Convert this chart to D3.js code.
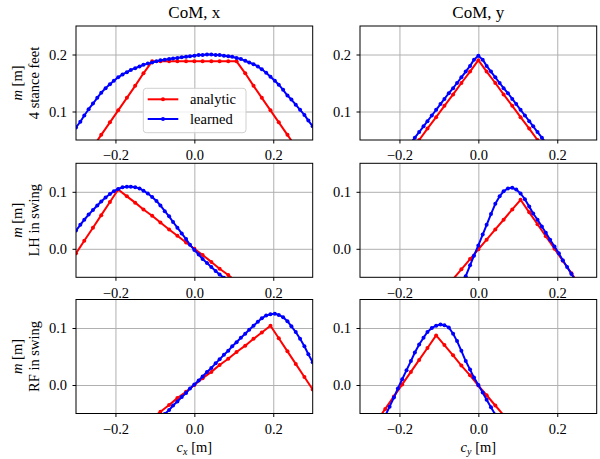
<!DOCTYPE html>
<html>
<head>
<meta charset="utf-8">
<script src="https://cdn.jsdelivr.net/npm/d3@7"></script>
<style>
  html, body { margin: 0; padding: 0; background: #fff; }
  svg text { font-family: "Liberation Serif", "DejaVu Serif", serif; fill: #000; }
</style>
</head>
<body>
<div id="chart"></div>
<script>
// ── Data ────────────────────────────────────────────────────────────────
// sample positions (m): analytic uses the coarse grid, learned the fine one
const xCoarse = [-0.300,-0.279,-0.257,-0.236,-0.214,-0.193,-0.171,-0.150,-0.129,-0.107,
  -0.086,-0.064,-0.043,-0.021,0.000,0.021,0.043,0.064,0.086,0.107,
  0.129,0.150,0.171,0.193,0.214,0.236,0.257,0.279,0.300];

const xFine = [-0.300,-0.289,-0.279,-0.268,-0.257,-0.246,-0.236,-0.225,-0.214,-0.204,
  -0.193,-0.182,-0.171,-0.161,-0.150,-0.139,-0.129,-0.118,-0.107,-0.096,
  -0.086,-0.075,-0.064,-0.054,-0.043,-0.032,-0.021,-0.011,0.000,0.011,
  0.021,0.032,0.043,0.054,0.064,0.075,0.086,0.096,0.107,0.118,
  0.129,0.139,0.150,0.161,0.171,0.182,0.193,0.204,0.214,0.225,
  0.236,0.246,0.257,0.268,0.279,0.289,0.300];

// row 1: 4 stance feet
const anaStanceX = [-0.005,0.016,0.038,0.059,0.081,0.102,0.124,0.145,0.167,0.188,
  0.188,0.188,0.188,0.188,0.188,0.188,0.188,0.188,0.188,0.188,
  0.167,0.145,0.124,0.102,0.081,0.059,0.038,0.016,-0.005];
const lrnStanceX = [0.072,0.082,0.093,0.104,0.114,0.124,0.133,0.141,0.148,0.154,
  0.160,0.165,0.169,0.173,0.176,0.179,0.182,0.184,0.186,0.188,
  0.190,0.191,0.192,0.193,0.194,0.195,0.196,0.197,0.198,0.199,
  0.199,0.200,0.200,0.199,0.199,0.198,0.197,0.196,0.194,0.192,
  0.189,0.186,0.183,0.179,0.174,0.168,0.161,0.154,0.147,0.138,
  0.128,0.121,0.112,0.103,0.094,0.084,0.074];
const anaStanceY = [-0.089,-0.069,-0.049,-0.029,-0.009,0.011,0.031,0.050,0.070,0.090,
  0.110,0.130,0.150,0.170,0.190,0.170,0.150,0.130,0.110,0.090,
  0.070,0.050,0.031,0.011,-0.009,-0.029,-0.049,-0.069,-0.089];
const lrnStanceY = [-0.071,-0.061,-0.052,-0.042,-0.032,-0.022,-0.013,-0.004,0.006,0.015,
  0.025,0.035,0.045,0.054,0.064,0.074,0.083,0.093,0.103,0.113,
  0.122,0.132,0.141,0.150,0.160,0.170,0.180,0.191,0.198,0.191,
  0.180,0.170,0.160,0.150,0.141,0.132,0.122,0.113,0.103,0.093,
  0.083,0.074,0.064,0.054,0.045,0.035,0.025,0.015,0.006,-0.004,
  -0.013,-0.022,-0.032,-0.042,-0.052,-0.061,-0.071];

// row 2: LH in swing
const anaLHX = [-0.008,0.014,0.037,0.059,0.082,0.104,0.092,0.081,0.069,0.058,
  0.046,0.034,0.023,0.011,0.000,-0.011,-0.023,-0.035,-0.046,-0.058,
  -0.069,-0.081,-0.092,-0.104,-0.115,-0.127,-0.139,-0.150,-0.162];
const lrnLHX = [0.032,0.042,0.051,0.060,0.068,0.076,0.083,0.090,0.096,0.101,
  0.105,0.108,0.109,0.109,0.108,0.106,0.102,0.097,0.091,0.084,
  0.076,0.066,0.057,0.047,0.037,0.027,0.017,0.007,-0.002,-0.010,
  -0.018,-0.025,-0.032,-0.039,-0.045,-0.051,-0.057,-0.063,-0.069,-0.075,
  -0.081,-0.087,-0.093,-0.099,-0.105,-0.111,-0.117,-0.123,-0.129,-0.135,
  -0.141,-0.147,-0.153,-0.159,-0.165,-0.171,-0.177];
const anaLHY = [-0.244,-0.227,-0.209,-0.192,-0.174,-0.157,-0.139,-0.122,-0.105,-0.087,
  -0.070,-0.053,-0.036,-0.018,-0.001,0.016,0.034,0.051,0.069,0.086,
  0.064,0.043,0.022,0.000,-0.021,-0.043,-0.064,-0.086,-0.107];
const lrnLHY = [-0.510,-0.492,-0.473,-0.455,-0.436,-0.418,-0.399,-0.381,-0.362,-0.344,
  -0.326,-0.307,-0.289,-0.270,-0.252,-0.233,-0.215,-0.196,-0.178,-0.159,
  -0.141,-0.122,-0.103,-0.085,-0.067,-0.048,-0.029,-0.012,0.006,0.025,
  0.042,0.061,0.079,0.092,0.101,0.106,0.107,0.104,0.097,0.087,
  0.074,0.062,0.051,0.039,0.028,0.016,0.004,-0.008,-0.020,-0.032,
  -0.044,-0.056,-0.068,-0.080,-0.092,-0.104,-0.116];

// row 3: RF in swing
const anaRFX = [-0.162,-0.151,-0.139,-0.128,-0.116,-0.104,-0.093,-0.081,-0.070,-0.058,
  -0.047,-0.035,-0.023,-0.012,0.000,0.012,0.023,0.035,0.046,0.058,
  0.069,0.081,0.092,0.104,0.082,0.059,0.037,0.014,-0.008];
const lrnRFX = [-0.205,-0.198,-0.190,-0.183,-0.176,-0.168,-0.161,-0.154,-0.147,-0.139,
  -0.132,-0.125,-0.117,-0.110,-0.103,-0.095,-0.088,-0.081,-0.073,-0.066,
  -0.059,-0.051,-0.044,-0.036,-0.029,-0.021,-0.014,-0.006,0.001,0.008,
  0.015,0.023,0.030,0.038,0.045,0.053,0.060,0.068,0.075,0.083,
  0.090,0.097,0.104,0.111,0.117,0.122,0.124,0.125,0.123,0.119,
  0.112,0.103,0.093,0.081,0.068,0.054,0.040];
const anaRFY = [-0.106,-0.085,-0.063,-0.042,-0.020,0.001,0.023,0.044,0.065,0.087,
  0.070,0.052,0.034,0.017,-0.001,-0.018,-0.036,-0.053,-0.071,-0.088,
  -0.106,-0.123,-0.141,-0.159,-0.176,-0.194,-0.211,-0.229,-0.246];
const lrnRFY = [-0.150,-0.134,-0.119,-0.102,-0.086,-0.070,-0.054,-0.038,-0.022,-0.006,
  0.010,0.026,0.042,0.057,0.071,0.083,0.093,0.100,0.104,0.106,
  0.105,0.101,0.090,0.077,0.060,0.042,0.027,0.013,0.000,-0.013,
  -0.026,-0.039,-0.052,-0.065,-0.078,-0.091,-0.104,-0.117,-0.130,-0.143,
  -0.156,-0.169,-0.182,-0.195,-0.208,-0.221,-0.234,-0.247,-0.260,-0.273,
  -0.286,-0.299,-0.312,-0.325,-0.338,-0.351,-0.364];

const colTitles = ["CoM, x", "CoM, y"];
const rowLabels = ["4 stance feet", "LH in swing", "RF in swing"];
const xAxisVars = ["x", "y"];
const xDomain = [-0.3, 0.3];
const xTicks = [-0.2, 0.0, 0.2];
const yDomains = [[0.05, 0.25], [-0.05, 0.15], [-0.05, 0.15]];
const yTicks = [[0.1, 0.2], [0.0, 0.1], [0.0, 0.1]];
const seriesNames = ["analytic", "learned"];

const grid = [
  [[anaStanceX, lrnStanceX], [anaStanceY, lrnStanceY]],
  [[anaLHX, lrnLHX], [anaLHY, lrnLHY]],
  [[anaRFX, lrnRFX], [anaRFY, lrnRFY]]
];

// ── Layout ──────────────────────────────────────────────────────────────
const W = 600, H = 459;
const colLeft = [76, 360];
const rowTop = [26, 163.3, 299.5];
const pw = 236.7, ph = 114;
const RED = "#ff0000", BLUE = "#0000ff", GRID_C = "#b0b0b0";
const FONT = "Liberation Serif, DejaVu Serif, serif";
const FS = 14.5;

const svg = d3.select("#chart").append("svg")
  .attr("width", W).attr("height", H)
  .attr("font-family", FONT);

const fmt = d3.format(".1f");

grid.forEach((row, r) => {
  row.forEach((pair, c) => {
    const g = svg.append("g")
      .attr("transform", `translate(${colLeft[c]},${rowTop[r]})`);

    const x = d3.scaleLinear().domain(xDomain).range([0, pw]);
    const y = d3.scaleLinear().domain(yDomains[r]).range([ph, 0]);

    const clipId = `clip-${r}-${c}`;
    g.append("clipPath").attr("id", clipId)
      .append("rect").attr("width", pw).attr("height", ph);

    // grid
    g.append("g").attr("class", "grid")
      .call(d3.axisBottom(x).tickValues(xTicks).tickSize(ph).tickFormat(""))
      .call(s => s.select(".domain").remove())
      .selectAll("line").attr("stroke", GRID_C).attr("stroke-width", 1);
    g.append("g").attr("class", "grid")
      .call(d3.axisLeft(y).tickValues(yTicks[r]).tickSize(-pw).tickFormat(""))
      .call(s => s.select(".domain").remove())
      .selectAll("line").attr("stroke", GRID_C).attr("stroke-width", 1);

    // series
    const plot = g.append("g").attr("clip-path", `url(#${clipId})`);
    const line = d3.line().x(d => x(d[0])).y(d => y(d[1]));
    const sets = [
      { xs: xCoarse, ys: pair[0], color: RED },
      { xs: xFine, ys: pair[1], color: BLUE }
    ];
    sets.forEach(s => {
      const pts = s.xs.map((v, i) => [v, s.ys[i]]);
      plot.append("path").datum(pts)
        .attr("fill", "none").attr("stroke", s.color)
        .attr("stroke-width", 2).attr("stroke-linejoin", "round")
        .attr("d", line);
      plot.selectAll(null).data(pts).enter().append("circle")
        .attr("cx", d => x(d[0])).attr("cy", d => y(d[1]))
        .attr("r", 2).attr("fill", s.color);
    });

    // axes
    const ax = g.append("g").attr("transform", `translate(0,${ph})`)
      .call(d3.axisBottom(x).tickValues(xTicks).tickSize(3.5).tickPadding(6.5).tickFormat(fmt));
    const ay = g.append("g")
      .call(d3.axisLeft(y).tickValues(yTicks[r]).tickSize(3.5).tickPadding(5.5).tickFormat(fmt));
    [ax, ay].forEach(a => {
      a.attr("font-family", FONT).attr("font-size", FS);
      a.select(".domain").remove();
      a.selectAll(".tick line").attr("stroke", "#000").attr("stroke-width", 1);
      a.selectAll("text").attr("fill", "#000");
    });

    // frame
    g.append("rect").attr("width", pw).attr("height", ph)
      .attr("fill", "none").attr("stroke", "#000").attr("stroke-width", 1);

    if (r === 0) {
      g.append("text").attr("x", pw / 2).attr("y", -7.7)
        .attr("text-anchor", "middle").attr("font-size", 17)
        .text(colTitles[c]);
    }

    if (c === 0) {
      const lbl = g.append("text")
        .attr("transform", `translate(-54.5,${ph / 2}) rotate(-90)`)
        .attr("text-anchor", "middle").attr("font-size", FS);
      const l1 = lbl.append("tspan").attr("x", 0).attr("dy", 0);
      l1.append("tspan").attr("font-style", "italic").text("m");
      l1.append("tspan").text(" [m]");
      lbl.append("tspan").attr("x", 0).attr("dy", 17).text(rowLabels[r]);
    }

    if (r === 2) {
      const xl = g.append("text").attr("x", pw / 2).attr("y", ph + 38.5)
        .attr("text-anchor", "middle").attr("font-size", FS);
      xl.append("tspan").attr("font-style", "italic").text("c");
      xl.append("tspan").attr("font-style", "italic").attr("font-size", 10)
        .attr("dy", 3).text(xAxisVars[c]);
      xl.append("tspan").attr("dy", -3).text(" [m]");
    }

    // legend in top-left panel
    if (r === 0 && c === 0) {
      const lg = g.append("g").attr("transform", `translate(${143.3 - colLeft[0]},${88.3 - rowTop[0]})`);
      lg.append("rect").attr("width", 102.7).attr("height", 44.4).attr("rx", 3)
        .attr("fill", "#fff").attr("fill-opacity", 0.8)
        .attr("stroke", "#d0d0d0").attr("stroke-width", 1);
      [RED, BLUE].forEach((col, i) => {
        const yy = 11 + i * 19.7;
        lg.append("line").attr("x1", 4.4).attr("x2", 35).attr("y1", yy).attr("y2", yy)
          .attr("stroke", col).attr("stroke-width", 2);
        lg.append("circle").attr("cx", 19.7).attr("cy", yy).attr("r", 2).attr("fill", col);
        lg.append("text").attr("x", 46.7).attr("y", yy + 4.8)
          .attr("font-size", FS).text(seriesNames[i]);
      });
    }
  });
});
</script>
</body>
</html>
